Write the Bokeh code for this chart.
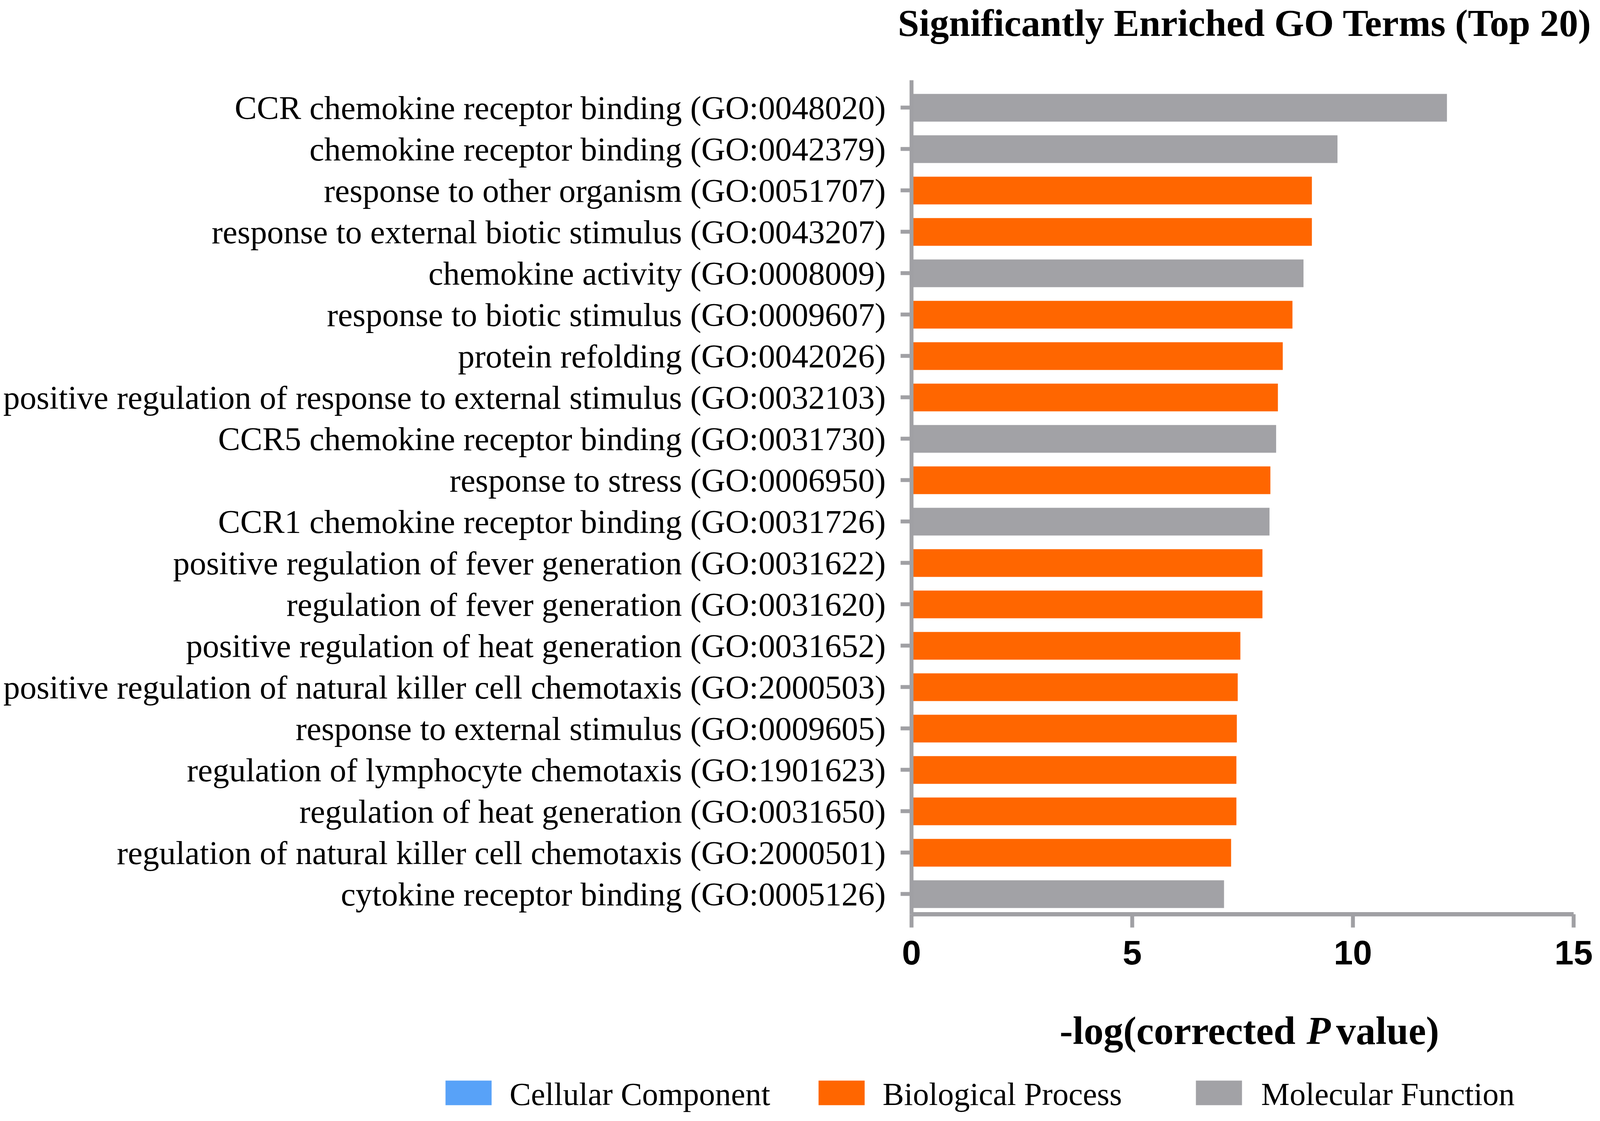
from bokeh.plotting import figure
from bokeh.models import Range1d, FixedTicker, ColumnDataSource
from bokeh.core.properties import value
from bokeh.embed import file_html
from bokeh.resources import INLINE

# ---------------- data ----------------
terms = [
    "CCR chemokine receptor binding (GO:0048020)",
    "chemokine receptor binding (GO:0042379)",
    "response to other organism (GO:0051707)",
    "response to external biotic stimulus (GO:0043207)",
    "chemokine activity (GO:0008009)",
    "response to biotic stimulus (GO:0009607)",
    "protein refolding (GO:0042026)",
    "positive regulation of response to external stimulus (GO:0032103)",
    "CCR5 chemokine receptor binding (GO:0031730)",
    "response to stress (GO:0006950)",
    "CCR1 chemokine receptor binding (GO:0031726)",
    "positive regulation of fever generation (GO:0031622)",
    "regulation of fever generation (GO:0031620)",
    "positive regulation of heat generation (GO:0031652)",
    "positive regulation of natural killer cell chemotaxis (GO:2000503)",
    "response to external stimulus (GO:0009605)",
    "regulation of lymphocyte chemotaxis (GO:1901623)",
    "regulation of heat generation (GO:0031650)",
    "regulation of natural killer cell chemotaxis (GO:2000501)",
    "cytokine receptor binding (GO:0005126)",
]
neg_log_p = [12.13, 9.65, 9.07, 9.07, 8.88, 8.63, 8.41, 8.30, 8.26, 8.13,
             8.11, 7.95, 7.95, 7.45, 7.39, 7.37, 7.36, 7.36, 7.24, 7.08]
ontology = ["MF", "MF", "BP", "BP", "MF", "BP", "BP", "BP", "MF", "BP",
            "MF", "BP", "BP", "BP", "BP", "BP", "BP", "BP", "BP", "MF"]

groups = ["CC", "BP", "MF"]
group_names = ["Cellular Component", "Biological Process", "Molecular Function"]
group_colors = ["#58A2F8", "#FF6600", "#A2A2A6"]

x_ticks = [0, 5, 10, 15]
x_max = 15
title_text = "Significantly Enriched GO Terms (Top 20)"
xlabel_parts = ["-log(corrected", "P", "value)"]

# ---------------- layout (canvas pixels) ----------------
W, H = 4078, 2855
X0_PX, X15_PX = 2333, 4028          # where x=0 and x=15 sit
Y_TOP_PX, ROW_PX = 205, 106         # top of the bar area, pixels per row
Y_TOP = -0.665                      # data value at the top of the bar area
Y_BOTTOM = 19.486                   # data value where the x axis sits
PX_X = (X15_PX - X0_PX) / x_max

def px_x(cx):
    return (cx - X0_PX) / PX_X

def px_y(cy):
    return Y_TOP + (cy - Y_TOP_PX) / ROW_PX

AXIS_COLOR = "#A0A0A4"
SERIF = "Liberation Serif"
SANS = "Liberation Sans"

p = figure(width=W, height=H,
           x_range=Range1d(px_x(0), px_x(W)), y_range=Range1d(px_y(H), px_y(0)),
           min_border=0, toolbar_location=None, output_backend="svg")
p.title.text = ""
p.title.visible = False
p.outline_line_color = None
p.xgrid.visible = False
p.ygrid.visible = False
p.background_fill_color = "white"
p.border_fill_color = "white"

positions = list(range(len(terms)))
for g, col in zip(groups, group_colors):
    idx = [i for i, o in enumerate(ontology) if o == g]
    src = ColumnDataSource(dict(y=[positions[i] for i in idx],
                                right=[neg_log_p[i] for i in idx]))
    p.hbar(y="y", left=0, right="right", height=0.67, source=src,
           fill_color=col, line_color=None)

# y axis (fixed at x = 0)
ya = p.yaxis[0]
ya.fixed_location = 0
ya.bounds = (Y_TOP, Y_BOTTOM)
ya.ticker = FixedTicker(ticks=positions)
ya.major_label_overrides = {i: t for i, t in zip(positions, terms)}
ya.major_label_text_font = SERIF
ya.major_label_text_font_size = "85px"
ya.major_label_text_color = "black"
ya.major_label_standoff = 38
ya.axis_line_color = AXIS_COLOR
ya.axis_line_width = 10
ya.major_tick_line_color = AXIS_COLOR
ya.major_tick_line_width = 10
ya.major_tick_out = 28
ya.major_tick_in = 0
ya.minor_tick_line_color = None

# x axis (fixed at the bottom of the bar area)
xa = p.xaxis[0]
xa.fixed_location = Y_BOTTOM
xa.bounds = (0, x_max)
xa.ticker = FixedTicker(ticks=x_ticks)
xa.major_label_text_font = SANS
xa.major_label_text_font_style = "bold"
xa.major_label_text_font_size = "88px"
xa.major_label_text_color = "black"
xa.major_label_standoff = 33
xa.axis_line_color = AXIS_COLOR
xa.axis_line_width = 11
xa.major_tick_line_color = AXIS_COLOR
xa.major_tick_line_width = 10
xa.major_tick_out = 34
xa.major_tick_in = 0
xa.minor_tick_line_color = None

# title
p.text(x=[px_x(4074)], y=[px_y(58)], text=[title_text], text_align="right",
       text_baseline="alphabetic", text_font=value(SERIF),
       text_font_style="bold", text_font_size=value("98px"), text_color="black")

# legend
sq_left = [1140, 2095, 3061]
sq_w = 118
txt_left = [1304, 2259, 3228]
p.quad(left=[px_x(v) for v in sq_left], right=[px_x(v + sq_w) for v in sq_left],
       top=[px_y(2767)] * 3, bottom=[px_y(2830)] * 3,
       fill_color=group_colors, line_color=None)
p.text(x=[px_x(v) for v in txt_left], y=[px_y(2802)] * 3, text=group_names,
       text_align="left", text_baseline="alphabetic", text_font=value(SERIF),
       text_font_size=value("82px"), text_color="black")

# x axis title with italic P
ty = px_y(2639)
for cx, txt, align, style in [(3316, xlabel_parts[0], "right", "bold"),
                              (3375, xlabel_parts[1], "center", "bold italic"),
                              (3420, xlabel_parts[2], "left", "bold")]:
    p.text(x=[px_x(cx)], y=[ty], text=[txt], text_align=align,
           text_baseline="alphabetic", text_font=value(SERIF),
           text_font_style=style, text_font_size=value("101px"), text_color="black")

open("out.html", "w").write(file_html(p, INLINE))
